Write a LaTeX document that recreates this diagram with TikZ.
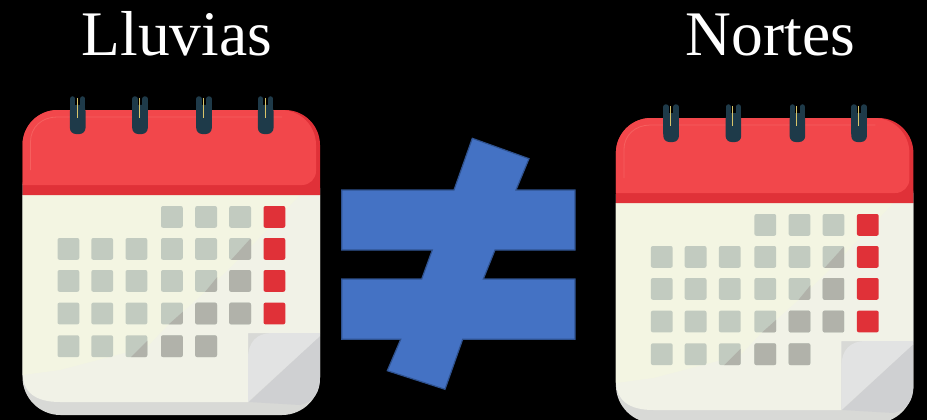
\documentclass[tikz,border=0pt]{standalone}
\usepackage{fontspec}
\setmainfont{Liberation Serif}
\usepackage{tikz}
\definecolor{calred}{HTML}{F2474B}
\definecolor{calreddark}{HTML}{E03138}
\definecolor{calhigh}{HTML}{F6605F}
\definecolor{calpaper}{HTML}{F1F2E7}
\definecolor{calpaperlight}{HTML}{F3F5E2}
\definecolor{calbottom}{HTML}{D8D9D6}
\definecolor{calcurl}{HTML}{E2E3E3}
\definecolor{calcurldark}{HTML}{CFD0D2}
\definecolor{calsquare}{HTML}{C2CBC0}
\definecolor{calshade}{HTML}{B1B2AA}
\definecolor{calring}{HTML}{1E3A49}
\definecolor{calgold}{HTML}{D9C56A}
\definecolor{neblue}{HTML}{4472C4}
\definecolor{neline}{HTML}{2F528F}
\tikzset{
  daybox/.style={rounded corners=2pt},
  titletext/.style={text=white,font=\fontsize{63.5}{64}\selectfont,anchor=base},
}
% all coordinates below are pixels of the left calendar
\newcommand{\drawdays}[1]{%
  \foreach \dx in {161,195.2,229.2}{\fill[#1,daybox] (\dx,206) rectangle +(21.8,21.8);}
  \foreach \dy in {238,270,302.6}{
    \foreach \dx in {57.5,91.3,125.5,161,195.2,229.2}{\fill[#1,daybox] (\dx,\dy) rectangle +(21.8,21.8);}
  }
  \foreach \dx in {57.5,91.3,125.5,161,195.2}{\fill[#1,daybox] (\dx,335.3) rectangle +(21.8,21.8);}
}
\newcommand{\drawcal}[2]{%
\begin{scope}[shift={(#1,#2)}]
  % body and paper
  \fill[calbottom,rounded corners=38pt] (22.5,150) rectangle (320,415);
  \fill[calpaper] (22.5,195) -- (22.5,372) .. controls (22.5,392) and (35,402) .. (60,402) -- (248,402) -- (248,333) -- (320,333) -- (320,195) -- cycle;
  \fill[calpaperlight] (22.5,195) -- (22.5,375) -- (60,370) -- (147,347) -- (168,325) -- (205,292) -- (240,258) -- (300,195) -- cycle;
  % page curl
  \fill[calcurldark] (249,402) -- (320,336) -- (320,378) .. controls (320,392) and (314,402) .. (300,405) -- cycle;
  \fill[calcurl] (248,402) -- (248,358) .. controls (248,342) and (257,333) .. (272,333) -- (320,333) -- (320,336) -- cycle;
  % red top
  \fill[calreddark] (22.5,195) [rounded corners=35pt] -- (22.5,110) -- (320,110) [sharp corners] -- (320,195) -- cycle;
  \fill[calred] (22.5,185) [rounded corners=35pt] -- (22.5,110) -- (316,110) [rounded corners=14pt] -- (316,185) [sharp corners] -- cycle;
  \draw[calhigh,line width=.8pt] (30.5,170) -- (30.5,142) .. controls (30.5,127) and (42,117) .. (57,117) -- (282,117);
  % rings
  \foreach \rx in {77.7,140,204,265.7}{
    \fill[calring,rounded corners=6pt] (\rx-7.8,105) rectangle (\rx+7.8,134);
    \draw[calring,line width=5.5pt,line cap=round] (\rx-5,99) -- (\rx-5,125);
    \draw[calring,line width=5.5pt,line cap=round] (\rx+5,99) -- (\rx+5,125);
    \draw[calgold,line width=.9pt] (\rx-.5,98) -- (\rx-.5,118);
  }
  % days
  \drawdays{calsquare}
  \begin{scope}
    \clip (125,363) -- (147,341) -- (168,325) -- (205,292) -- (232,259) -- (251,238) -- (251,360) -- cycle;
    \drawdays{calshade}
  \end{scope}
  \foreach \dy in {206,238,270,302.6}{\fill[calreddark,daybox] (263.5,\dy) rectangle +(21.8,21.8);}
\end{scope}}

\begin{document}
\begin{tikzpicture}[x=1pt,y=-1pt]
\useasboundingbox (0,0) rectangle (927,420);
\fill[black] (0,0) rectangle (927,420);
\clip (0,0) rectangle (927,420);
\drawcal{0}{0}
\drawcal{593.4}{8}
\node[titletext] (lluvias) at (176.8,55.5) {Lluvias};
\node[titletext] (nortes) at (770.5,55.5) {Nortes};
% not equal sign
\draw[fill=neblue,draw=neline,line width=1.2pt] (341.7,190) -- (454,190) -- (472.3,138.3) -- (529,158.7) -- (516,190) -- (575,190) -- (575,250) -- (495,250) -- (483.3,279) -- (575,279) -- (575,339.3) -- (462.7,339.3) -- (445,389.3) -- (387.3,370.7) -- (400.7,339.3) -- (341.7,339.3) -- (341.7,279) -- (421.7,279) -- (432.3,250) -- (341.7,250) -- cycle;
\end{tikzpicture}
\end{document}
